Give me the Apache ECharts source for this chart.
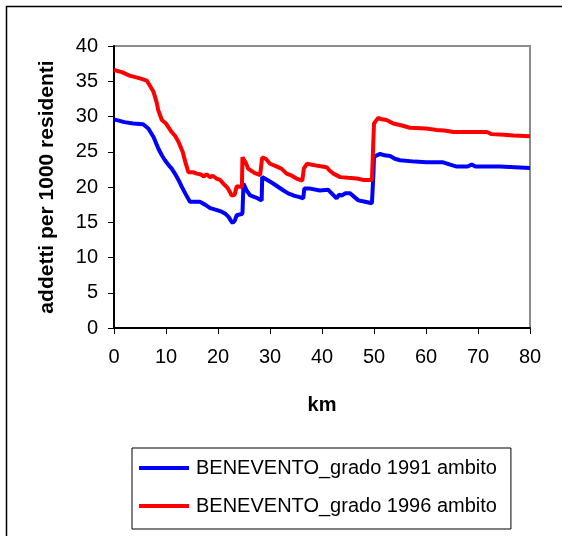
<!DOCTYPE html>
<html>
<head>
<meta charset="utf-8">
<script src="https://cdn.jsdelivr.net/npm/echarts@6/dist/echarts.min.js"></script>
<style>
html, body { margin: 0; padding: 0; background: #fff; }
#main { width: 562px; height: 536px; }
</style>
</head>
<body>
<div id="main"></div>
<script>
// km lungo il percorso
var kmXticks = [0, 10, 20, 30, 40, 50, 60, 70, 80];
var yTicks = [0, 5, 10, 15, 20, 25, 30, 35, 40];

// BENEVENTO_grado 1991 ambito
var km1991 = [0, 2, 3.7, 5.6, 6.6, 7.6, 8.5, 9.2, 9.8, 10.5, 11.1, 11.8, 12.4, 13.0, 13.7, 14.6, 15.5, 16.5, 17.5, 18.5,
	19.5, 20.7, 21.4, 22.0, 22.5, 22.8, 23.2, 23.6, 24.7, 24.9, 25.5, 26.2, 27.3, 28.4, 28.5, 29.5, 30.6, 31.6, 32.6, 33.5,
	34.5, 35.5, 36.4, 36.6, 37.5, 39.6, 41.2, 42.0, 42.8, 43.3, 43.8, 44.5, 45.4, 46.2, 47.0, 48.3, 49.6, 49.9, 50.0, 51.2,
	52.0, 53.1, 54.0, 55.0, 57.9, 60.0, 63.3, 64.5, 65.9, 68.0, 68.8, 69.5, 74.2, 77.1, 80];
var val1991 = [29.6, 29.2, 29.0, 28.9, 28.3, 27.1, 25.5, 24.5, 23.8, 23.1, 22.6, 21.8, 21.0, 20.1, 19.1, 17.9, 17.9, 17.9, 17.5, 17.0,
	16.8, 16.5, 16.2, 15.8, 15.2, 14.9, 15.2, 16.0, 16.2, 20.5, 19.5, 18.8, 18.5, 18.1, 21.4, 21.0, 20.5, 20.0, 19.5, 19.1,
	18.8, 18.6, 18.4, 19.8, 19.8, 19.5, 19.6, 19.0, 18.4, 18.9, 18.8, 19.1, 19.1, 18.6, 18.1, 17.9, 17.7, 22.0, 24.3, 24.7,
	24.5, 24.4, 24.0, 23.8, 23.6, 23.5, 23.5, 23.2, 22.9, 22.9, 23.2, 22.9, 22.9, 22.8, 22.7];

// BENEVENTO_grado 1996 ambito
var km1996 = [0, 1.5, 3, 5, 6.3, 7.2, 7.6, 8.2, 8.5, 9.2, 10, 11.1, 11.8, 12.4, 13.2, 13.7, 14.3, 15.2, 15.9, 16.6,
	17.3, 17.8, 18.5, 19.0, 19.7, 20.4, 21.0, 21.8, 22.3, 22.6, 23.2, 23.6, 24.6, 24.7, 25.3, 25.8, 27.0, 28.1, 28.4, 28.5,
	29.2, 30.0, 31.0, 32.2, 33.2, 34.2, 35.1, 36.2, 36.4, 36.5, 37.1, 39.2, 40.9, 41.5, 42.2, 43.5, 45.0, 46.7, 48.0, 49.6,
	49.8, 50.0, 50.8, 51.5, 52.4, 53.7, 55.0, 56.9, 60.0, 62.1, 63.5, 65.3, 68.0, 71.7, 72.6, 75.0, 76.8, 80];
var val1996 = [36.6, 36.3, 35.8, 35.4, 35.1, 34.0, 33.5, 32.0, 30.9, 29.5, 29.0, 27.8, 27.2, 26.4, 25.0, 23.6, 22.1, 22.1, 21.9, 21.8,
	21.5, 21.8, 21.4, 21.6, 21.2, 21.0, 20.5, 19.9, 19.3, 18.8, 18.9, 20.1, 20.0, 24.2, 23.5, 22.6, 22.0, 21.7, 21.6, 24.2,
	24.0, 23.3, 23.0, 22.6, 21.9, 21.6, 21.2, 20.9, 20.7, 22.6, 23.3, 23.0, 22.8, 22.3, 21.9, 21.4, 21.3, 21.2, 21.0, 21.0,
	25.0, 29.0, 29.8, 29.6, 29.5, 29.0, 28.8, 28.4, 28.3, 28.1, 28.0, 27.8, 27.8, 27.8, 27.5, 27.4, 27.3, 27.2];

function zip(xs, ys) {
	var out = [];
	for (var i = 0; i < xs.length; i++) {
		out.push([xs[i], ys[i]]);
	}
	return out;
}

var FONT = '"Liberation Sans", Arial, sans-serif';
var myChart = echarts.init(document.getElementById('main'), null, { renderer: 'canvas' });

var option = {
	animation: false,
	backgroundColor: '#ffffff',
	graphic: [
		{
			type: 'rect',
			shape: { x: 6.5, y: 6.5, width: 600, height: 600 },
			style: { fill: 'none', stroke: '#000', lineWidth: 1.5 },
			silent: true
		}
	],
	grid: {
		left: 114,
		top: 46,
		width: 416,
		height: 282,
		show: true,
		borderColor: '#8c8c8c',
		borderWidth: 2,
		backgroundColor: '#fff'
	},
	legend: {
		orient: 'vertical',
		left: 132,
		top: 448,
		padding: [9, 14, 12, 7],
		itemGap: 16,
		itemWidth: 50,
		itemHeight: 4,
		icon: 'rect',
		borderColor: '#000',
		borderWidth: 1,
		textStyle: { fontFamily: FONT, fontSize: 20, color: '#000', padding: [0, 0, 0, 2], lineHeight: 22 },
		data: ['BENEVENTO_grado 1991 ambito', 'BENEVENTO_grado 1996 ambito']
	},
	xAxis: {
		type: 'value',
		min: 0,
		max: 80,
		interval: 10,
		name: 'km',
		nameLocation: 'middle',
		nameGap: 67,
		nameTextStyle: { fontFamily: FONT, fontSize: 20, fontWeight: 'bold', color: '#000' },
		axisLine: { show: true, onZero: false, lineStyle: { color: '#000', width: 2 } },
		axisTick: { show: true, inside: false, length: 6, lineStyle: { color: '#000', width: 1 } },
		axisLabel: { fontFamily: FONT, fontSize: 20, color: '#000', margin: 19 },
		splitLine: { show: false }
	},
	yAxis: {
		type: 'value',
		min: 0,
		max: 40,
		interval: 5,
		name: 'addetti per 1000 residenti',
		nameLocation: 'middle',
		nameGap: 56,
		nameRotate: 90,
		nameTextStyle: { fontFamily: FONT, fontSize: 21, fontWeight: 'bold', color: '#000' },
		axisLine: { show: true, onZero: false, lineStyle: { color: '#000', width: 2 } },
		axisTick: { show: true, inside: false, length: 6, lineStyle: { color: '#000', width: 1 } },
		axisLabel: { fontFamily: FONT, fontSize: 20, color: '#000', margin: 16 },
		splitLine: { show: false }
	},
	series: [
		{
			name: 'BENEVENTO_grado 1991 ambito',
			type: 'line',
			data: zip(km1991, val1991),
			showSymbol: false,
			color: '#0000ff',
			lineStyle: { color: '#0000ff', width: 4 },
			z: 3
		},
		{
			name: 'BENEVENTO_grado 1996 ambito',
			type: 'line',
			data: zip(km1996, val1996),
			showSymbol: false,
			color: '#ff0000',
			lineStyle: { color: '#ff0000', width: 4 },
			z: 3
		}
	]
};

myChart.setOption(option);
</script>
</body>
</html>
